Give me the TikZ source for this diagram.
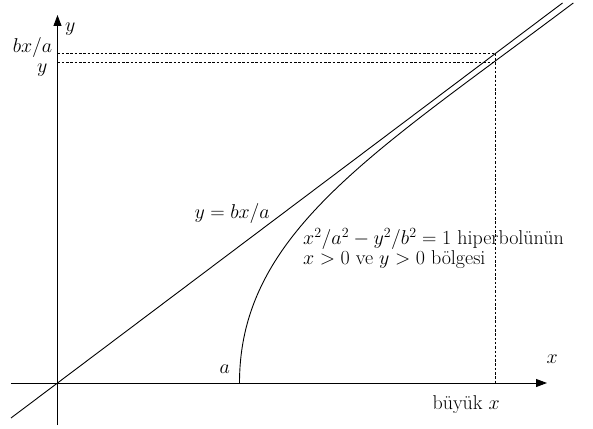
\RequirePackage{fix-cm}
\documentclass[tikz,border=0pt]{standalone}
\usetikzlibrary{arrows.meta}
\tikzset{
  axis/.style={-{Triangle[length=11pt,width=8pt]}, line width=0.9pt},
  curve/.style={line width=0.9pt},
  guide/.style={line width=0.9pt, dash pattern=on 2.5pt off 1.8pt},
  lbl/.style={inner sep=0pt, font=\fontsize{20}{22}\selectfont},
}
\begin{document}
\begin{tikzpicture}[x=1pt,y=1pt]
  \useasboundingbox (-57.5,-45) rectangle (535.5,383);
  \coordinate (xs) at (-46.5,0);
  \coordinate (xe) at (489.5,0);
  \coordinate (ys) at (0,-42);
  \coordinate (ye) at (0,368);
  \draw[axis] (xs) -- (xe);
  \draw[axis] (ys) -- (ye);
  \node[lbl, anchor=base west] (xlab) at (489,19.7) {$x$};
  \node[lbl, anchor=base west] (ylab) at (7.5,351.3) {$y$};
  % asymptote and hyperbola branch
  \coordinate (as) at (-46.5,-35);
  \coordinate (ae) at (505,380);
  \coordinate (hv) at (182,0);
  \coordinate (he) at (515.8,380);
  \draw[curve] (as) -- (ae);
  \draw[curve] (hv) .. controls (182,150) and (315.8,229.6) .. (he);
  % dashed guides at big x
  \coordinate (P) at (437.5,329.2);
  \coordinate (Q) at (437.5,320.8);
  \coordinate (Pl) at (0,329.2);
  \coordinate (Ql) at (0,320.8);
  \coordinate (Pb) at (437.5,0);
  \draw[guide] (Pl) -- (P);
  \draw[guide] (Ql) -- (Q);
  \draw[guide] (P) -- (Pb);
  % labels
  \node[lbl, anchor=base east] (bxa) at (-5,330) {$bx/a$};
  \node[lbl, anchor=base east] (ybig) at (-10,310.5) {$y$};
  \node[lbl, anchor=base east] (asym) at (212.5,164.7) {$y = bx/a$};
  \node[lbl, anchor=base west] (hyp) at (245.5,138) {$x^2/a^2 - y^2/b^2 = 1$ hiperbolünün};
  \node[lbl, anchor=base west] (hyp2) at (245.5,118.5) {$x > 0$ ve $y > 0$ bölgesi};
  \node[lbl, anchor=base east] (alab) at (172.5,10) {$a$};
  \node[lbl, anchor=base east] (bigx) at (442.5,-26) {büyük $x$};
\end{tikzpicture}
\end{document}
